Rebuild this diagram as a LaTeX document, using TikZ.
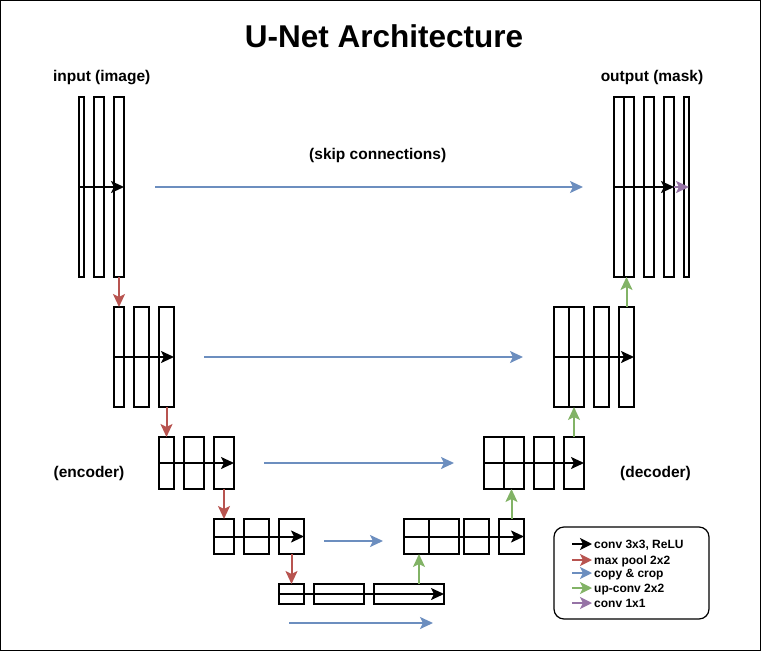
\documentclass[tikz,border=0pt]{standalone}
\usepackage{fontspec}
\setmainfont{Liberation Sans}
\usetikzlibrary{arrows.meta,calc}
\definecolor{cblue}{HTML}{6C8EBF}
\definecolor{cred}{HTML}{B85450}
\definecolor{cgreen}{HTML}{82B366}
\definecolor{cpurple}{HTML}{9673A6}
\begin{document}
\begin{tikzpicture}[x=1pt,y=-1pt,
  blk/.style={draw, line width=1.2pt, inner sep=0pt, outer sep=0pt, anchor=north west},
  arr/.style={line width=2pt, -{Stealth[length=13pt,width=12pt,inset=3pt]}},
  conv/.style={arr, black},
  pool/.style={arr, cred},
  copyarr/.style={arr, cblue},
  uparr/.style={arr, cgreen},
  finarr/.style={arr, cpurple},
  lbl/.style={font=\fontsize{15.5}{18}\selectfont\bfseries, inner sep=0pt, anchor=base},
  leg/.style={font=\fontsize{12}{14}\selectfont\bfseries, inner sep=0pt, anchor=base west},
  legarr/.style={line width=2pt, -{Stealth[length=12pt,width=12pt,inset=3pt]}}]
\useasboundingbox (0,0) rectangle (761,651);
\draw[line width=1pt] (0.5,0.5) rectangle (760.5,650.5);

% title and labels
\node[font=\fontsize{31.5}{36}\selectfont\bfseries, inner sep=0pt, anchor=base] (title) at (384,47.7) {U-Net Architecture};
\node[lbl] (lin) at (101.7,81) {input (image)};
\node[lbl] (lout) at (652,81) {output (mask)};
\node[lbl] (lskip) at (377.7,159) {(skip connections)};
\node[lbl] (lenc) at (89,477) {(encoder)};
\node[lbl] (ldec) at (655.5,477) {(decoder)};

% level 1
\node[blk, minimum width=5pt, minimum height=180pt] (e1a) at (79,97) {};
\node[blk, minimum width=10pt, minimum height=180pt] (e1b) at (94,97) {};
\node[blk, minimum width=10pt, minimum height=180pt] (e1c) at (114,97) {};
\node[blk, minimum width=10pt, minimum height=180pt] (d1a) at (614,97) {};
\node[blk, minimum width=10pt, minimum height=180pt] (d1b) at (624,97) {};
\node[blk, minimum width=10pt, minimum height=180pt] (d1c) at (644,97) {};
\node[blk, minimum width=10pt, minimum height=180pt] (d1d) at (664,97) {};
\node[blk, minimum width=5pt, minimum height=180pt] (d1e) at (684,97) {};
% level 2
\node[blk, minimum width=10pt, minimum height=100pt] (e2a) at (114,307) {};
\node[blk, minimum width=15pt, minimum height=100pt] (e2b) at (134,307) {};
\node[blk, minimum width=15pt, minimum height=100pt] (e2c) at (159,307) {};
\node[blk, minimum width=15pt, minimum height=100pt] (d2a) at (554,307) {};
\node[blk, minimum width=15pt, minimum height=100pt] (d2b) at (569,307) {};
\node[blk, minimum width=15pt, minimum height=100pt] (d2c) at (594,307) {};
\node[blk, minimum width=15pt, minimum height=100pt] (d2d) at (619,307) {};
% level 3
\node[blk, minimum width=15pt, minimum height=52pt] (e3a) at (159,437) {};
\node[blk, minimum width=20pt, minimum height=52pt] (e3b) at (184,437) {};
\node[blk, minimum width=20pt, minimum height=52pt] (e3c) at (214,437) {};
\node[blk, minimum width=20pt, minimum height=52pt] (d3a) at (484,437) {};
\node[blk, minimum width=20pt, minimum height=52pt] (d3b) at (504,437) {};
\node[blk, minimum width=20pt, minimum height=52pt] (d3c) at (534,437) {};
\node[blk, minimum width=20pt, minimum height=52pt] (d3d) at (564,437) {};
% level 4
\node[blk, minimum width=20pt, minimum height=35pt] (e4a) at (214,519) {};
\node[blk, minimum width=25pt, minimum height=35pt] (e4b) at (244,519) {};
\node[blk, minimum width=25pt, minimum height=35pt] (e4c) at (279,519) {};
\node[blk, minimum width=25pt, minimum height=35pt] (d4a) at (404,519) {};
\node[blk, minimum width=30pt, minimum height=35pt] (d4b) at (429,519) {};
\node[blk, minimum width=25pt, minimum height=35pt] (d4c) at (464,519) {};
\node[blk, minimum width=25pt, minimum height=35pt] (d4d) at (499,519) {};
% level 5
\node[blk, minimum width=25pt, minimum height=20pt] (b5a) at (279,584) {};
\node[blk, minimum width=50pt, minimum height=20pt] (b5b) at (314,584) {};
\node[blk, minimum width=70pt, minimum height=20pt] (b5c) at (374,584) {};

% conv arrows
\draw[conv] (e1a.west) -- (e1c.east);
\draw[conv] (d1a.west) -- (d1d.east);
\draw[finarr] (d1d.east) -- (d1e.east);
\draw[conv] (e2a.west) -- (e2c.east);
\draw[conv] (d2a.west) -- (d2d.east);
\draw[conv] (e3a.west) -- (e3c.east);
\draw[conv] (d3a.west) -- (d3d.east);
\draw[conv] (e4a.west) -- (e4c.east);
\draw[conv] (d4a.west) -- (d4d.east);
\draw[conv] (b5a.west) -- (b5c.east);

% max pool
\draw[pool] (e1c.south) -- (e2a.north);
\draw[pool] (e2c.south) -- (e3a.north);
\draw[pool] (e3c.south) -- (e4a.north);
\draw[pool] (e4c.south) -- (b5a.north);

% up-conv
\coordinate (g5) at ([xshift=10pt]b5c.north);
\draw[uparr] (g5) -- (g5 |- d4a.south);
\draw[uparr] (d4d.north) -- (d4d.north |- d3b.south);
\draw[uparr] (d3d.north) -- (d3d.north |- d2b.south);
\draw[uparr] (d2d.north) -- (d2d.north |- d1b.south);

% copy & crop
\coordinate (c1s) at (155,187); \coordinate (c1e) at (583,187);
\coordinate (c2s) at (204,357); \coordinate (c2e) at (523,357);
\coordinate (c3s) at (264,463); \coordinate (c3e) at (454,463);
\coordinate (c4s) at (324,541); \coordinate (c4e) at (383,541);
\coordinate (c5s) at (289,623); \coordinate (c5e) at (433,623);
\draw[copyarr] (c1s) -- (c1e);
\draw[copyarr] (c2s) -- (c2e);
\draw[copyarr] (c3s) -- (c3e);
\draw[copyarr] (c4s) -- (c4e);
\draw[copyarr] (c5s) -- (c5e);

% legend
\draw[line width=1.2pt, rounded corners=10pt] (554,527) rectangle (709,619);
\node[leg] (t1) at (594,548) {conv 3x3, ReLU};
\node[leg] (t2) at (594,564) {max pool 2x2};
\node[leg] (t3) at (594,577) {copy \& crop};
\node[leg] (t4) at (594,592) {up-conv 2x2};
\node[leg] (t5) at (594,607) {conv 1x1};
\coordinate (a1) at (572,544); \coordinate (b1) at (592,544);
\coordinate (a2) at (572,560); \coordinate (b2) at (592,560);
\coordinate (a3) at (572,573); \coordinate (b3) at (592,573);
\coordinate (a4) at (572,588); \coordinate (b4) at (592,588);
\coordinate (a5) at (572,603); \coordinate (b5) at (592,603);
\draw[legarr, black] (a1) -- (b1);
\draw[legarr, cred] (a2) -- (b2);
\draw[legarr, cblue] (a3) -- (b3);
\draw[legarr, cgreen] (a4) -- (b4);
\draw[legarr, cpurple] (a5) -- (b5);
\end{tikzpicture}
\end{document}
